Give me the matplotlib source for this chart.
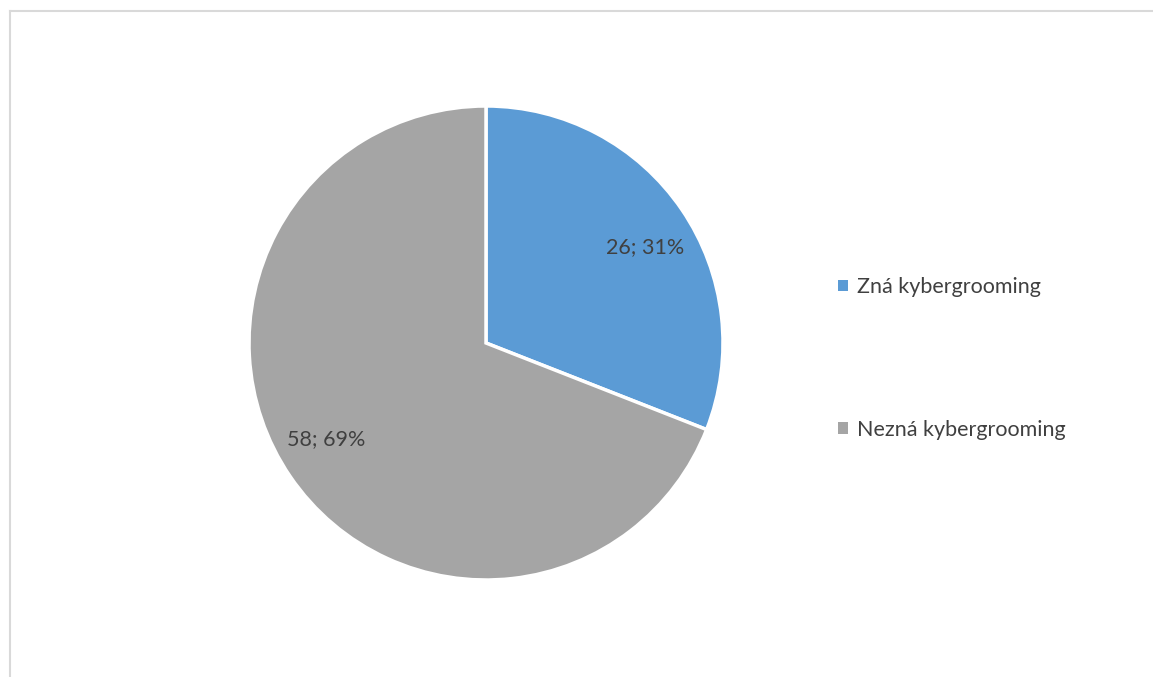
import numpy as np
import matplotlib
matplotlib.use("Agg")
import matplotlib.pyplot as plt
from matplotlib.patches import Patch
from matplotlib.lines import Line2D

categories = ["Zná kybergrooming", "Nezná kybergrooming"]
values = [26, 58]
percent_labels = ["31%", "69%"]
colors = ["#5B9BD5", "#A5A5A5"]

plt.rcParams['font.family'] = ['Lato', 'DejaVu Sans']
text_color = "#404040"

W, H = 1153, 677
fig = plt.figure(figsize=(W / 100, H / 100), dpi=100)

# chart frame (left/top visible)
fig.add_artist(Line2D([10.5 / W, 10.5 / W], [0, 1 - 11 / H], transform=fig.transFigure,
                      color="#D9D9D9", lw=1.5))
fig.add_artist(Line2D([10.5 / W, 1], [1 - 11 / H, 1 - 11 / H], transform=fig.transFigure,
                      color="#D9D9D9", lw=1.5))

ax = fig.add_axes([249 / W, (H - 580) / H, 474 / W, 474 / H])
labels = [f"{v}; {p}" for v, p in zip(values, percent_labels)]
wedges, texts = ax.pie(values, colors=colors, startangle=90, counterclock=False,
                       labels=labels, labeldistance=0.785, radius=1,
                       wedgeprops=dict(edgecolor="white", linewidth=2.5),
                       textprops=dict(color=text_color, fontsize=15.5))
# nudge labels slightly toward the horizontal (Excel-like placement)
for w, t in zip(wedges, texts):
    mid = np.deg2rad((w.theta1 + w.theta2) / 2)
    x, y = np.cos(mid), np.sin(mid)
    shift = np.deg2rad(3.2) * (-np.sign(x * y))
    ang = mid + shift
    t.set_position((0.785 * np.cos(ang), 0.785 * np.sin(ang)))
    t.set_ha("center")
    t.set_va("center")
ax.set_xlim(-1.0, 1.0)
ax.set_ylim(-1.0, 1.0)
ax.set_aspect("equal")
ax.axis("off")

handles = [Patch(facecolor=c, edgecolor="none") for c in colors]
leg = fig.legend(handles, categories, loc="center left",
                 bbox_to_anchor=(819 / W, 1 - 358.5 / H), frameon=False,
                 fontsize=15.5, labelspacing=5.7, handlelength=0.45, handleheight=0.45,
                 handletextpad=0.42, labelcolor=text_color)

fig.savefig("out.png", dpi=100, facecolor="white")
